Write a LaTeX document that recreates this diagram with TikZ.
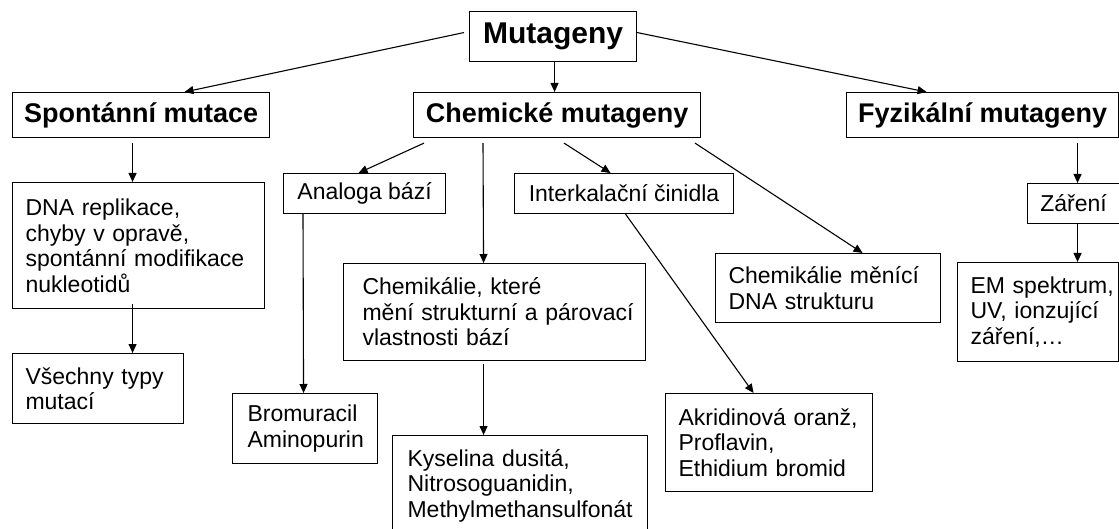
\documentclass[tikz,border=0pt]{standalone}
\usepackage{fontspec}
\setmainfont{Liberation Sans}
\usetikzlibrary{arrows.meta}
\tikzset{
  box/.style={draw, line width=1.1pt, anchor=north west, inner sep=0pt},
  big/.style={box, font=\fontsize{30}{33}\selectfont\bfseries},
  head/.style={box, font=\fontsize{27}{30}\selectfont\bfseries},
  single/.style={box, font=\fontsize{23}{25.5}\selectfont},
  multi/.style={box, font=\fontsize{23}{25.5}\selectfont, align=left, inner xsep=13pt},
  arr/.style={line width=1.1pt, -{Triangle[length=9pt,width=8pt]}},
}
\begin{document}
\begin{tikzpicture}[x=1pt,y=-1pt]
\clip (0,0) rectangle (1119,529);
\fill[white] (0,0) rectangle (1119,529);
% top level
\node[big, minimum width=167pt, minimum height=50pt] (mut) at (469,11) {Mutageny};
% second level
\node[head, minimum width=257pt, minimum height=45pt] (spont) at (12,92) {Spontánní mutace};
\node[head, minimum width=287pt, minimum height=45pt] (chem) at (413,92) {Chemické mutageny};
\node[head, minimum width=272pt, minimum height=45pt] (fyz) at (846,92) {Fyzikální mutageny};
% third level
\node[multi, text width=226pt, minimum height=126pt] (dna) at (12,182)
  {\mbox{DNA replikace,}\\\mbox{chyby v opravě,}\\\mbox{spontánní modifikace}\\\mbox{nukleotidů}};
\node[single, minimum width=162pt, minimum height=40pt] (analoga) at (283,173) {Analoga bází};
\node[single, minimum width=219pt, minimum height=40pt] (interk) at (514,173) {Interkalační činidla};
\node[single, minimum width=92pt, minimum height=40pt] (zar) at (1027,183) {Záření};
\node[multi, inner xsep=19pt, text width=264pt, minimum height=97pt] (chemkt) at (343,263)
  {\mbox{Chemikálie, které}\\\mbox{mění strukturní a párovací}\\\mbox{vlastnosti bází}};
\node[multi, text width=199pt, minimum height=69pt] (menici) at (715,253)
  {\mbox{Chemikálie měnící}\\\mbox{DNA strukturu}};
\node[multi, text width=135pt, minimum height=99pt] (em) at (957,262)
  {\mbox{EM spektrum,}\\\mbox{UV, ionzující}\\\mbox{záření,…}};
\node[multi, text width=145pt, minimum height=70pt] (vsech) at (12,353)
  {\mbox{Všechny typy}\\\mbox{mutací}};
\node[multi, inner xsep=15pt, text width=115pt, minimum height=70pt] (brom) at (232,393)
  {\mbox{Bromuracil}\\\mbox{Aminopurin}};
\node[multi, inner xsep=15pt, text width=225pt, minimum height=100pt] (kys) at (392,435)
  {\mbox{Kyselina dusitá,}\\\mbox{Nitrosoguanidin,}\\\mbox{Methylmethansulfonát}};
\node[multi, text width=181pt, minimum height=98pt] (akrid) at (665,393)
  {\mbox{Akridinová oranž,}\\\mbox{Proflavin,}\\\mbox{Ethidium bromid}};
% connectors
\draw[arr] ([xshift=-5pt,yshift=4pt]mut.west) -- ([xshift=43.5pt]spont.north);
\draw[arr] ([xshift=1.5pt]mut.south) -- ([xshift=-2.5pt]chem.north);
\draw[arr] ([yshift=4pt]mut.east) -- ([xshift=-56pt]fyz.north);
\draw[arr] ([xshift=-8.5pt,yshift=-5pt]spont.south) -- ([xshift=-6pt]dna.north);
\draw[arr] ([xshift=11pt,yshift=-5pt]chem.south west) -- ([xshift=-6pt]analoga.north);
\draw[arr] ([xshift=70pt,yshift=-5pt]chem.south west) -- ([xshift=-11pt]chemkt.north);
\draw[arr] ([xshift=151pt,yshift=-5pt]chem.south west) -- ([xshift=-13.5pt]interk.north);
\draw[arr] ([xshift=282pt,yshift=-5pt]chem.south west) -- ([xshift=34.5pt]menici.north);
\draw[arr] ([xshift=95pt,yshift=-5pt]fyz.south) -- ([xshift=4pt]zar.north);
\draw[arr] ([xshift=4pt]zar.south) -- ([xshift=39.5pt]em.north);
\draw[arr] ([xshift=-6pt,yshift=5pt]dna.south) -- ([xshift=34.5pt]vsech.north);
\draw[arr] ([xshift=20pt]analoga.south west) -- ([xshift=-1.5pt]brom.north);
\draw[arr] ([xshift=-11pt,yshift=-3pt]chemkt.south) -- ([xshift=-36.5pt]kys.north);
\draw[arr] ([xshift=1.5pt]interk.south) -- ([xshift=-15.5pt]akrid.north);
\end{tikzpicture}
\end{document}
